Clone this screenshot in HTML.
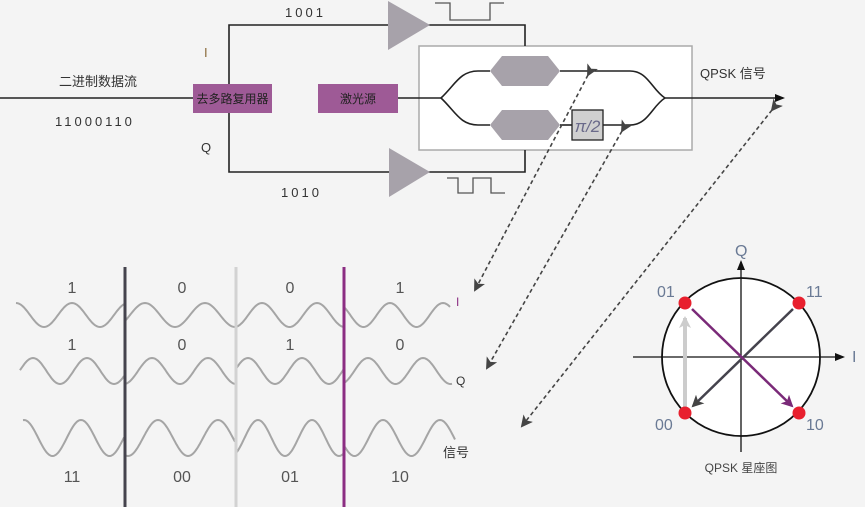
<!DOCTYPE html>
<html><head><meta charset="utf-8"><style>
html,body{margin:0;padding:0;background:#f4f4f4;}
svg{display:block;font-family:"Liberation Sans","Noto Sans CJK SC",sans-serif;}
</style></head><body>
<svg id="s" width="865" height="507" viewBox="0 0 865 507" xmlns="http://www.w3.org/2000/svg">
<defs>
<marker id="ahk" markerWidth="10" markerHeight="10" refX="8" refY="5" orient="auto" markerUnits="userSpaceOnUse"><path d="M0,1 L10,5 L0,9 Z" fill="#111"/></marker>
<marker id="ahp" markerWidth="12" markerHeight="12" refX="10" refY="6" orient="auto" markerUnits="userSpaceOnUse"><path d="M0,0 L12,6 L0,12 L3,6 Z" fill="#7a2a78"/></marker>
<marker id="ahg" markerWidth="12" markerHeight="12" refX="10" refY="6" orient="auto" markerUnits="userSpaceOnUse"><path d="M0,0 L12,6 L0,12 L3,6 Z" fill="#ccc"/></marker>
<marker id="ahd" markerWidth="12" markerHeight="12" refX="10" refY="6" orient="auto" markerUnits="userSpaceOnUse"><path d="M0,0 L12,6 L0,12 L3,6 Z" fill="#444"/></marker>
</defs>
<rect x="419" y="46" width="273" height="104" fill="#fff" stroke="#aaa" stroke-width="1.5"/>
<g fill="none" stroke="#222" stroke-width="1.6">
<path d="M0,98 H193"/>
<path d="M229,84 V25 H525 V46"/>
<path d="M229,113 V172 H525 V150"/>
<path d="M398,98 H441"/>
<path d="M441,98 C455,85 460,71 478,71 H490"/>
<path d="M441,98 C455,111 460,125 478,125 H490"/>
<path d="M560,71 H630 C648,71 652,90 665,98"/>
<path d="M560,125 H572"/>
<path d="M603,125 H630 C648,125 652,106 665,98"/>
<path d="M665,98 H783" marker-end="url(#ahk)"/>
</g>
<g fill="none" stroke="#555" stroke-width="1.3">
<path d="M435,3 H450 V20 H490 V3 H504"/>
<path d="M447,178 H458 V193 H473 V178 H491 V193 H505"/>
</g>
<polygon points="388,1 388,50 430,25" fill="#a7a2aa"/>
<polygon points="389,148 389,197 430,172" fill="#a7a2aa"/>
<polygon points="490,71 502,56 548,56 560,71 548,86 502,86" fill="#a7a2aa"/>
<polygon points="490,125 502,110 548,110 560,125 548,140 502,140" fill="#a7a2aa"/>
<rect x="572" y="110" width="31" height="30" fill="#d0d0d0" stroke="#222" stroke-width="1.3"/>
<text x="587.5" y="132" font-size="17" text-anchor="middle" fill="#6a6a8a" font-style="italic">π/2</text>
<rect x="193" y="84" width="79" height="29" fill="#9e5a96"/>
<text x="232.5" y="103" font-size="12" text-anchor="middle" fill="#222">去多路复用器</text>
<rect x="318" y="84" width="80" height="29" fill="#9e5a96"/>
<text x="358" y="103" font-size="12" text-anchor="middle" fill="#222">激光源</text>
<g fill="#333" font-size="13">
<text x="59" y="86">二进制数据流</text>
<text x="55" y="126" letter-spacing="3">11000110</text>
<text x="204" y="57" fill="#8a6a3a">I</text>
<text x="201" y="152" fill="#333">Q</text>
<text x="285" y="17" letter-spacing="3">1001</text>
<text x="281" y="197" letter-spacing="3">1010</text>
<text x="700" y="78">QPSK 信号</text>
</g>
<g fill="none" stroke="#444" stroke-width="1.6" stroke-dasharray="4,3">
<path d="M588,75 L475,290" marker-start="url(#ahd)" marker-end="url(#ahd)"/>
<path d="M622,131 L487,368" marker-start="url(#ahd)" marker-end="url(#ahd)"/>
<path d="M772,110 L522,426" marker-start="url(#ahd)" marker-end="url(#ahd)"/>
</g>
<g id="waves" fill="none" stroke="#a5a5a5" stroke-width="2"></g>
<rect x="123.5" y="267" width="3" height="240" fill="#45434d"/>
<rect x="234.5" y="267" width="3" height="240" fill="#d2d2d2"/>
<rect x="342.5" y="267" width="3" height="240" fill="#8b2d82"/>
<g fill="#555" font-size="16" text-anchor="middle">
<text x="72" y="293">1</text><text x="182" y="293">0</text><text x="290" y="293">0</text><text x="400" y="293">1</text>
<text x="72" y="350">1</text><text x="182" y="350">0</text><text x="290" y="350">1</text><text x="400" y="350">0</text>
<text x="72" y="482">11</text><text x="182" y="482">00</text><text x="290" y="482">01</text><text x="400" y="482">10</text>
</g>
<text x="456" y="306" font-size="12" fill="#8b2d82">I</text>
<text x="456" y="385" font-size="12" fill="#333">Q</text>
<text x="443" y="457" font-size="13" fill="#333">信号</text>
<circle cx="741" cy="357" r="79" fill="#fff" stroke="#111" stroke-width="1.8"/>
<g stroke="#111" stroke-width="1.3" fill="none">
<path d="M633,357 H843" marker-end="url(#ahk)"/>
<path d="M741,452 V262" marker-end="url(#ahk)"/>
</g>
<path d="M685,408 V318" stroke="#ccc" stroke-width="4" fill="none" marker-end="url(#ahg)"/>
<path d="M793,309 L693,406" stroke="#45434d" stroke-width="2.5" fill="none" marker-end="url(#ahd)"/>
<path d="M692,309 L792,406" stroke="#7a2a78" stroke-width="2.5" fill="none" marker-end="url(#ahp)"/>
<g fill="#e8202e"><circle cx="685" cy="303" r="6.5"/><circle cx="799" cy="303" r="6.5"/><circle cx="685" cy="413" r="6.5"/><circle cx="799" cy="413" r="6.5"/></g>
<g fill="#6a7a95" font-size="16">
<text x="657" y="297">01</text><text x="806" y="297">11</text><text x="655" y="430">00</text><text x="806" y="430">10</text>
<text x="735" y="256">Q</text><text x="852" y="362">I</text>
</g>
<text x="741" y="472" font-size="12" fill="#444" text-anchor="middle">QPSK 星座图</text>
</svg>
<script>
(function(){
var g=document.getElementById('waves');
function seg(x1,x2,c,a,x0,p){var d='';for(var x=x1;x<=x2;x+=1){var y=c-a*Math.cos(2*Math.PI*(x-x0)/p);d+=(x==x1?'M':'L')+x+','+y.toFixed(1)+' ';}
var e=document.createElementNS('http://www.w3.org/2000/svg','path');e.setAttribute('d',d);g.appendChild(e);}
seg(16,124,315,12,16,56);seg(125,235,315,12,145,60);seg(236,344,315,12,262,55);seg(345,450,315,12,390,53);
seg(20,124,371,13,33,54);seg(125,235,371,13,152,56);seg(236,344,371,13,248,54);seg(345,452,371,13,368,55);
seg(23,124,438,18,24,57);seg(125,235,438,18,158,60);seg(236,344,438,18,258,54);seg(345,455,438,18,383,57);
})();
</script>
</body></html>
